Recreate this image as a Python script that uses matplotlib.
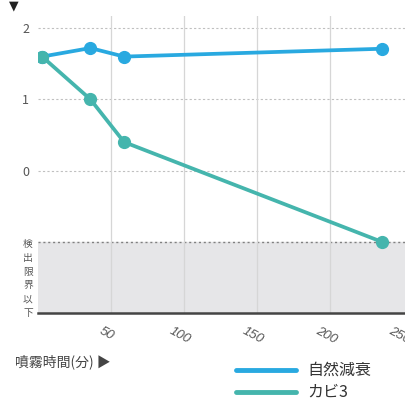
import matplotlib
matplotlib.use("Agg")
import matplotlib.pyplot as plt
import matplotlib.transforms as mtrans

plt.rcParams['font.family'] = ['Noto Sans CJK JP', 'DejaVu Sans']

time_natural = [3, 36, 59, 235]
val_natural = [1.6, 1.72, 1.6, 1.71]
time_kabi = [3, 36, 59, 235]
val_kabi = [1.6, 1.0, 0.4, -1.0]
yticks = [0, 1, 2]
xticks = [50, 100, 150, 200, 250]
label_natural = "自然減衰"
label_kabi = "カビ3"
limit_text = "検出限界以下"
xlabel_text = "噴霧時間(分) ▶"

blue = "#29a9e0"
teal = "#45b5ad"

fig = plt.figure(figsize=(4.05, 4.01), dpi=100)
ax = fig.add_axes([0.0931, 0.2195, 0.907, 0.7406])
ax.set_xlim(0, 251)
ax.set_ylim(-2, 2.17)

ax.axhspan(-2, -1, color="#e6e6e8", zorder=0)
for y in yticks:
    ax.axhline(y, color="#c0c0c0", lw=0.8, ls=(0, (2, 2)), zorder=1)
ax.axhline(-1, color="#808080", lw=1.0, ls=(0, (1.5, 2)), zorder=1)
for x in xticks[:-1]:
    ax.axvline(x, color="#d6d6d6", lw=0.9, zorder=1)

ax.plot(time_natural, val_natural, color=blue, lw=2.7, marker="o", ms=8.5, zorder=3, solid_capstyle="round")
ax.plot(time_kabi, val_kabi, color=teal, lw=2.7, marker="o", ms=8.5, zorder=4, solid_capstyle="round")

for s in ["top", "left", "right"]:
    ax.spines[s].set_visible(False)
ax.spines["bottom"].set_color("#444444")
ax.spines["bottom"].set_linewidth(1.8)

ax.set_yticks(yticks)
ax.set_yticklabels([str(v) for v in yticks], fontsize=9, color="#555555")
ax.tick_params(axis="y", length=0, pad=6)
ax.set_xticks(xticks)
ax.set_xticklabels([str(v) for v in xticks], fontsize=9.5, color="#555555",
                   rotation=-28, ha="center", family=["Liberation Sans"], style="italic")
ax.tick_params(axis="x", length=0, pad=9)
offset = mtrans.ScaledTranslation(-4 / 100, 0, fig.dpi_scale_trans)
for lbl in ax.get_xticklabels():
    lbl.set_transform(lbl.get_transform() + offset)

fig.text(14 / 405, 1 - 6 / 401, "▼", fontsize=9, color="#222222", ha="center", va="center",
         family=["DejaVu Sans"])
chars = list(limit_text)
for i, c in enumerate(chars):
    y = 244 + i * (313 - 244) / (len(chars) - 1)
    fig.text(28 / 405, 1 - y / 401, c, fontsize=7, color="#555555", ha="center", va="center")

fig.text(15 / 405, 1 - 362 / 401, xlabel_text, fontsize=10, color="#444444", ha="left", va="center")

fig.lines.append(plt.Line2D([236 / 405, 296 / 405], [1 - 370 / 401] * 2, color=blue, lw=3.5,
                            solid_capstyle="round", transform=fig.transFigure))
fig.lines.append(plt.Line2D([236 / 405, 296 / 405], [1 - 392 / 401] * 2, color=teal, lw=3.5,
                            solid_capstyle="round", transform=fig.transFigure))
fig.text(307 / 405, 1 - 370 / 401, label_natural, fontsize=11.5, color="#333333", ha="left", va="center")
fig.text(307 / 405, 1 - 392 / 401, label_kabi, fontsize=11.5, color="#333333", ha="left", va="center")

fig.savefig("out.png", dpi=100)
